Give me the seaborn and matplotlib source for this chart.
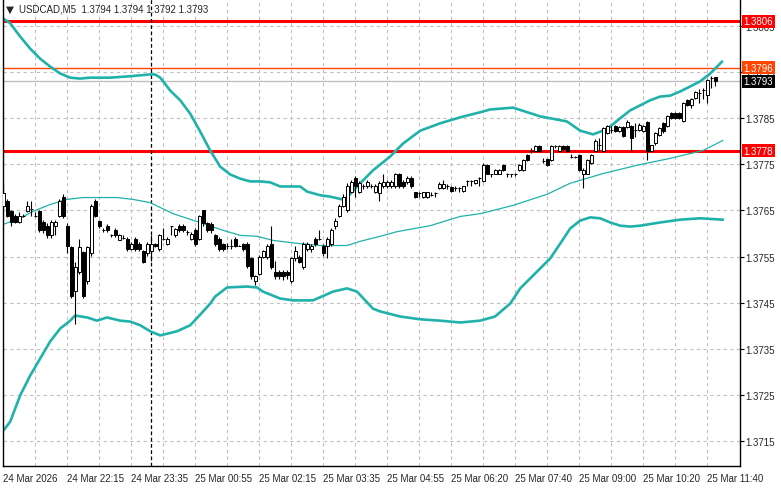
import numpy as np
import pandas as pd
import seaborn as sns
import matplotlib.pyplot as plt
import matplotlib.transforms as mtransforms

sns.set_style("white")
plt.rcParams['font.family'] = ['Liberation Sans', 'DejaVu Sans']

# all prices below are pips above 1.3700
base = 1.37

opens = [65.9, 67.0, 64.8, 63.9, 62.6, 63.9, 64.8, 65.4, 63.9, 64.8,
         62.6, 61.7, 59.6, 61.7, 63.9, 68.0, 61.7, 57.0, 47.6, 51.7,
         55.9, 49.6, 55.7, 67.0, 62.8, 60.7, 61.7, 59.6, 60.7, 58.7,
         59.1, 58.9, 56.7, 58.9, 57.8, 56.1, 55.7, 56.1, 57.8, 56.7,
         58.9, 57.8, 61.7, 59.6, 61.7, 61.7, 60.4, 58.9, 60.7, 58.9,
         65.0, 62.2, 62.0, 59.6, 58.9, 57.8, 57.4, 57.4, 58.9, 57.4,
         57.8, 57.8, 54.6, 49.6, 51.3, 55.0, 54.8, 57.8, 51.7, 51.7,
         51.7, 51.7, 49.8, 54.6, 55.0, 52.8, 56.7, 56.7, 58.9, 58.9,
         57.4, 57.4, 57.8, 61.7, 63.9, 65.9, 65.0, 69.1, 72.0, 69.1,
         70.2, 70.2, 70.2, 69.1, 68.7, 70.2, 70.2, 70.2, 70.2, 72.8,
         71.1, 71.1, 72.0, 68.9, 68.7, 68.0, 68.0, 68.3, 68.7, 69.8,
         69.8, 70.2, 70.0, 69.8, 69.8, 69.3, 71.3, 71.3, 70.9, 72.0,
         71.3, 74.8, 72.8, 73.0, 73.0, 74.8, 72.8, 72.8, 72.8, 73.7,
         73.7, 77.0, 77.8, 78.0, 78.9, 75.7, 76.1, 75.9, 78.9, 77.8,
         78.9, 78.9, 76.7, 76.5, 77.0, 73.0, 73.0, 75.2, 78.0, 79.1,
         78.0, 81.7, 82.4, 83.3, 82.2, 83.0, 83.0, 83.3, 82.4, 82.4,
         82.2, 84.1, 78.0, 79.6, 81.3, 83.9, 83.3, 86.1, 86.1, 86.1,
         84.3, 88.9, 87.8, 89.3, 90.4, 91.1, 90.0, 93.7, 94.0]

closes = [68.7, 63.9, 62.6, 62.6, 63.9, 63.9, 65.9, 65.4, 63.9, 60.7,
          60.7, 59.6, 62.6, 62.6, 67.0, 63.7, 57.4, 46.5, 52.8, 57.0,
          46.5, 57.0, 65.9, 63.9, 61.7, 60.7, 60.7, 59.6, 59.6, 59.6,
          59.1, 56.7, 57.8, 56.7, 56.7, 53.9, 57.8, 57.8, 57.2, 59.6,
          58.9, 58.9, 61.7, 60.9, 60.7, 60.7, 60.4, 60.0, 57.8, 63.7,
          62.2, 60.7, 60.7, 57.8, 56.7, 56.7, 57.4, 57.4, 57.4, 57.4,
          56.7, 53.0, 50.7, 50.7, 55.0, 56.1, 57.4, 52.8, 50.7, 50.7,
          50.7, 50.9, 54.6, 56.1, 53.9, 57.8, 57.8, 57.4, 57.8, 58.9,
          55.7, 58.9, 60.7, 62.8, 65.9, 68.0, 70.2, 71.1, 70.2, 70.9,
          70.2, 71.1, 70.2, 70.2, 70.9, 71.1, 71.1, 71.1, 72.8, 70.2,
          70.2, 72.0, 70.2, 68.0, 68.7, 68.9, 68.9, 68.3, 68.7, 70.7,
          70.7, 70.2, 69.3, 69.8, 69.8, 70.2, 71.3, 71.3, 71.5, 72.0,
          74.8, 73.0, 72.8, 73.7, 73.7, 73.7, 72.8, 72.8, 72.8, 74.8,
          75.9, 75.9, 77.8, 78.9, 77.8, 75.7, 74.8, 78.9, 78.9, 78.9,
          78.3, 77.8, 76.7, 76.5, 73.7, 73.7, 75.9, 77.0, 80.0, 79.1,
          82.8, 83.3, 82.4, 82.2, 83.0, 81.1, 84.1, 80.7, 82.4, 83.5,
          83.3, 78.0, 79.1, 81.7, 82.8, 82.2, 85.4, 85.0, 85.0, 85.0,
          88.3, 87.8, 89.1, 90.7, 90.4, 91.1, 93.3, 93.7, 93.0]

highs = [70.9, 67.4, 65.0, 64.3, 64.6, 64.3, 67.0, 67.0, 64.6, 65.2,
         63.0, 62.2, 63.0, 63.0, 67.4, 68.5, 62.2, 57.4, 53.9, 58.9,
         56.3, 57.4, 66.3, 67.4, 63.0, 61.1, 62.0, 60.0, 61.1, 60.0,
         59.6, 59.3, 58.2, 59.3, 58.2, 56.5, 58.2, 59.6, 58.0, 60.0,
         61.1, 59.3, 61.7, 61.3, 62.0, 62.0, 60.7, 60.4, 61.1, 64.1,
         65.2, 62.6, 62.4, 60.0, 59.3, 58.0, 58.0, 58.9, 59.3, 57.6,
         58.0, 58.2, 55.0, 51.1, 55.4, 56.5, 57.8, 61.7, 54.1, 52.0,
         52.0, 52.0, 55.0, 57.2, 55.4, 58.2, 58.2, 57.8, 59.3, 60.7,
         57.8, 59.3, 61.1, 63.3, 66.3, 68.5, 70.9, 71.7, 72.4, 71.3,
         70.7, 71.5, 70.7, 70.7, 71.3, 73.0, 71.5, 71.5, 73.2, 73.2,
         71.5, 72.4, 72.4, 69.1, 68.9, 69.1, 69.1, 68.9, 68.9, 71.1,
         71.5, 70.7, 70.4, 70.2, 70.0, 70.4, 71.5, 71.5, 71.7, 72.2,
         75.2, 75.0, 73.0, 73.9, 73.9, 75.0, 73.2, 73.0, 73.2, 75.0,
         76.1, 77.2, 78.5, 79.1, 79.1, 76.3, 76.3, 79.1, 79.3, 79.1,
         79.1, 79.1, 77.2, 76.9, 77.2, 74.1, 76.1, 77.2, 80.4, 80.7,
         83.0, 83.5, 83.3, 83.5, 83.3, 83.3, 84.6, 83.5, 83.9, 83.9,
         83.5, 84.3, 79.3, 82.0, 83.0, 84.1, 85.7, 86.3, 86.3, 86.3,
         88.5, 89.1, 89.3, 90.9, 91.3, 91.5, 93.5, 94.1, 94.0]

lows = [65.4, 63.5, 61.7, 62.2, 62.2, 63.5, 64.6, 63.9, 63.5, 60.4,
        60.2, 59.1, 59.1, 59.6, 63.5, 63.3, 55.7, 46.1, 40.4, 51.3,
        46.1, 49.1, 55.2, 63.5, 61.3, 60.4, 60.4, 59.3, 59.3, 58.5,
        58.9, 56.3, 56.5, 56.3, 56.3, 53.5, 55.2, 54.1, 57.0, 56.3,
        58.7, 57.6, 59.6, 59.3, 60.4, 60.4, 59.6, 58.7, 57.4, 58.5,
        61.7, 60.4, 60.2, 57.4, 56.3, 56.3, 56.7, 56.7, 57.0, 57.2,
        56.3, 52.6, 50.2, 48.9, 50.9, 54.6, 54.4, 52.4, 50.2, 50.2,
        50.0, 50.2, 49.3, 54.1, 53.5, 52.4, 56.1, 55.9, 57.4, 58.5,
        55.2, 54.6, 57.4, 60.9, 63.5, 65.7, 64.6, 68.9, 68.0, 68.7,
        69.6, 69.8, 69.8, 68.7, 67.0, 69.8, 69.8, 69.8, 69.8, 69.8,
        69.8, 70.7, 69.8, 67.8, 68.0, 67.8, 67.8, 68.1, 68.0, 69.6,
        69.6, 69.6, 68.9, 69.3, 69.1, 69.1, 70.4, 70.4, 70.7, 70.2,
        71.1, 72.8, 72.2, 72.8, 72.8, 73.5, 72.2, 72.2, 72.4, 73.5,
        73.5, 75.7, 77.4, 77.8, 77.6, 75.4, 74.6, 75.7, 78.5, 77.6,
        78.0, 77.6, 76.3, 76.3, 73.5, 69.8, 72.8, 75.0, 77.8, 77.8,
        77.8, 81.5, 81.7, 82.0, 82.0, 80.9, 82.8, 78.0, 80.9, 82.2,
        82.0, 75.9, 77.8, 79.3, 81.1, 81.7, 83.0, 84.8, 84.8, 84.8,
        84.1, 87.6, 87.2, 89.1, 88.3, 89.1, 88.3, 91.5, 92.0]

# Bollinger bands (bar position, pips)
upper_bar = [0, 1.7, 4.2, 6.7, 9.2, 11.7, 14.2, 16.7, 19.2, 21.6, 26.6, 31.6, 36.6, 37.9, 39.2,
             40.4, 41.7, 44.2, 46.7, 49.2, 51.7, 54.2, 56.7, 59.2, 61.7, 64.2, 66.7, 69.2, 74.2,
             75.9, 79.2, 81.7, 84.7, 85.9, 89.2, 92.4, 96.7, 99.9, 104.2, 109.2, 114.2, 119.2,
             121.7, 127.4, 134.2, 140.9, 144.2, 147.4, 149.9, 151.7, 154.2, 156.7, 159.2, 161.7,
             164.2, 166.7, 169.2, 171.7, 174.2, 176.7, 179.7]
upper_val = [106.6, 105.6, 102.7, 100.1, 97.9, 96.2, 94.7, 93.8, 93.6, 93.8, 93.8, 94.1, 94.5, 94.5,
             93.8, 92.5, 91.0, 88.9, 86.0, 82.1, 78.0, 74.5, 72.8, 71.9, 71.3, 71.3, 71.1, 70.2,
             70.2, 69.1, 68.3, 68.0, 67.4, 67.8, 70.9, 73.7, 76.7, 79.5, 82.3, 83.9, 85.2, 86.3,
             86.9, 87.3, 85.4, 84.3, 82.3, 81.5, 82.3, 83.2, 85.0, 86.7, 87.8, 88.9, 89.7, 89.9,
             90.8, 91.9, 93.0, 94.7, 97.3]

middle_bar = [0, 4.2, 7.4, 11.7, 15.9, 19.9, 28.4, 32.4, 36.7, 42.4, 48.4, 54.9, 59.2, 63.4, 67.4,
              74.2, 79.2, 85.9, 89.2, 94.2, 98.4, 106.7, 114.2, 119.2, 127.4, 135.9, 141.7,
              149.9, 158.4, 166.7, 174.9, 179.9]
middle_val = [62.0, 63.3, 64.8, 66.3, 67.4, 67.8, 67.8, 67.4, 66.7, 64.3, 62.6, 60.7, 59.6, 59.4,
              58.5, 57.8, 57.4, 57.4, 58.3, 59.4, 60.4, 61.7, 63.7, 64.3, 66.1, 68.5, 70.9, 73.0,
              74.8, 76.3, 78.0, 80.2]

lower_bar = [0, 0.4, 1.7, 4.2, 6.7, 9.2, 11.7, 14.2, 16.7, 17.9, 20.9, 23.4, 25.9, 29.2, 31.7,
             34.2, 36.7, 39.2, 43.4, 46.7, 49.2, 51.7, 52.9, 55.9, 60.9, 63.4, 64.9, 69.2, 72.4,
             77.4, 82.4, 85.9, 88.4, 92.4, 94.2, 99.2, 104.2, 109.2, 114.2, 119.2, 122.9, 126.7,
             129.2, 132.9, 136.7, 139.2, 141.7, 144.2, 146.7, 149.2, 151.7, 154.2, 156.7, 159.2,
             164.2, 169.2, 174.2, 179.9]
lower_val = [17.3, 17.7, 19.2, 24.9, 29.2, 32.9, 36.6, 39.4, 41.1, 42.2, 41.8, 41.1, 41.8, 41.1,
             40.9, 40.1, 38.8, 37.9, 38.8, 40.1, 42.4, 44.8, 46.3, 48.3, 48.5, 48.3, 47.4, 45.9,
             45.5, 45.5, 47.4, 48.1, 47.4, 43.7, 43.1, 42.0, 41.4, 41.1, 40.7, 41.1, 42.0, 44.8,
             48.1, 51.3, 54.6, 57.8, 61.1, 62.8, 63.5, 63.3, 62.4, 61.7, 61.5, 61.7, 62.4, 63.0,
             63.3, 63.0]

time_labels = ["24 Mar 2026", "24 Mar 22:15", "24 Mar 23:35", "25 Mar 00:55", "25 Mar 02:15",
               "25 Mar 03:35", "25 Mar 04:55", "25 Mar 06:20", "25 Mar 07:40", "25 Mar 09:00",
               "25 Mar 10:20", "25 Mar 11:40"]
price_ticks = [1.3715, 1.3725, 1.3735, 1.3745, 1.3755, 1.3765, 1.3775, 1.3785, 1.3795, 1.3805]

# horizontal levels: (price, line colour, label box colour, line width)
levels = [(1.3806, '#ff0000', '#ff0000', 2.2),
          (1.3796, '#ff4500', '#ff4500', 1.0),
          (1.3793, '#c0c0c0', '#000000', 1.0),
          (1.3778, '#ff0000', '#ff0000', 2.2)]
title = "USDCAD,M5  1.3794 1.3794 1.3792 1.3793"

df = pd.DataFrame({"o": opens, "h": highs, "l": lows, "c": closes})
df = base + df / 10000
df["bar"] = np.arange(len(df))

fig = plt.figure(figsize=(7.81, 4.89), dpi=100)
ax = fig.add_axes([3 / 781, 22 / 489, 737 / 781, 467 / 489])
ax.set_facecolor('white')

# grid
ax.set_xticks(np.arange(0, 177, 16))
ax.set_xticks(np.arange(8, 184, 16), minor=True)
ax.set_yticks(price_ticks)
ax.grid(True, which='both', axis='x', color='#c0c0c0', ls=(0, (3, 3)), lw=0.8, zorder=0)
ax.grid(True, which='major', axis='y', color='#c0c0c0', ls=(0, (3, 3)), lw=0.8, zorder=0)

# bands
for bx, bv, lw in [(upper_bar, upper_val, 1.9), (middle_bar, middle_val, 0.9),
                   (lower_bar, lower_val, 1.9)]:
    sns.lineplot(x=bx, y=base + np.array(bv) / 10000, ax=ax, color='#20b2aa', lw=lw,
                 zorder=2, estimator=None)

# level lines
for price, lc, bc, lw in levels:
    ax.axhline(price, color=lc, lw=lw, zorder=1.5)

# period separator
ax.axvline(37, color='black', ls=(0, (3, 2)), lw=0.9, zorder=1.6)

# candles
bull = df["c"] >= df["o"]
ax.vlines(df["bar"], df["l"], df["h"], color='black', lw=0.8, zorder=3)
ax.bar(df["bar"], (df["c"] - df["o"]).abs(), bottom=df[["o", "c"]].min(axis=1), width=0.66,
       color=np.where(bull, 'white', 'black'), edgecolor='black', lw=0.7, zorder=4)

ax.set_xlim(-0.1, 184.15)
ax.set_ylim(1.370958, 1.381086)

ax.set_xticklabels(time_labels, ha='left', fontsize=7)
ax.yaxis.tick_right()
ax.set_yticklabels([f"{p:.4f}" for p in price_ticks], fontsize=7)
ax.tick_params(axis='both', which='major', length=3, width=0.8, color='black', pad=2)
ax.tick_params(axis='y', which='major', pad=1)
ax.tick_params(axis='x', which='minor', length=0)
ax.set_xlabel("")
ax.set_ylabel("")
for side in ['left', 'bottom', 'right']:
    ax.spines[side].set_color('black')
    ax.spines[side].set_linewidth(1.0)
ax.spines['top'].set_visible(False)

# price labels on the right axis
trans = mtransforms.blended_transform_factory(ax.transAxes, ax.transData)
for price, lc, bc, lw in levels:
    ax.text(1.005, price, f"{price:.4f}", transform=trans, fontsize=7, color='white',
            va='center', ha='left', zorder=10, clip_on=False,
            bbox=dict(boxstyle='square,pad=0.18', fc=bc, ec='none'))

fig.text(6 / 781, 1 - 10 / 489, "▼", fontsize=7.5, family='DejaVu Sans', va='center')
fig.text(19 / 781, 1 - 10 / 489, title, fontsize=7, va='center')

fig.savefig("out.png", dpi=100)
